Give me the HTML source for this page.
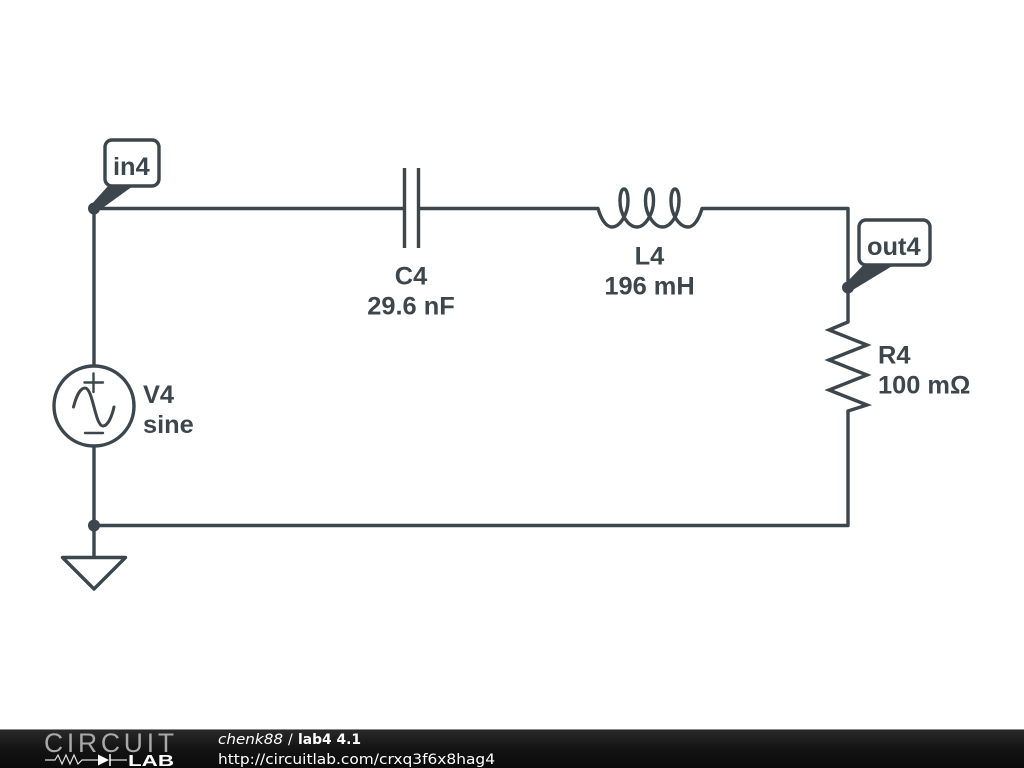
<!DOCTYPE html>
<html>
<head>
<meta charset="utf-8">
<style>
html,body{margin:0;padding:0;background:#fff;width:1024px;height:768px;overflow:hidden}
svg{display:block}
.l{font-family:"Liberation Sans",sans-serif;font-weight:bold;font-size:25.4px;fill:#3c464c}
.f{font-family:"DejaVu Sans",sans-serif;font-size:14px;fill:#fff}
</style>
</head>
<body>
<svg width="1024" height="768" viewBox="0 0 1024 768" xmlns="http://www.w3.org/2000/svg">
<defs>
<linearGradient id="g" x1="0" y1="0" x2="0" y2="1">
<stop offset="0" stop-color="#2a2a2a"/>
<stop offset="0.5" stop-color="#141414"/>
<stop offset="1" stop-color="#0a0a0a"/>
</linearGradient>
</defs>
<rect width="1024" height="768" fill="#fff"/>
<g fill="none" stroke="#3c464c" stroke-width="3.4" stroke-linejoin="round" stroke-linecap="round">
<!-- wires -->
<path stroke-linecap="butt" d="M94 208.500H404M418.500 208.500H598M702 208.500H848V322M848 411V525.500H94M94 208.500V366M94 446V557"/>
<!-- capacitor -->
<path stroke-linecap="butt" d="M404.500 168V248M418.500 168V248"/>
<!-- inductor -->
<path d="M598 208.500C601 219 606 227 612 227C620 227 628 214 628 201C628 194 626.500 189 624 189C621.500 189 620 194 620 201C620 214 628 227 637 227C645 227 653.500 214 653.500 201C653.500 194 652 189 649.500 189C647 189 645.500 194 645.500 201C645.500 214 654 227 662.500 227C671 227 679 214 679 201C679 194 677.500 189 675 189C672.500 189 671 194 671 201C671 214 679 227 688 227C694 227 699 219 702 208.500"/>
<!-- resistor -->
<path stroke-linejoin="miter" d="M848 322L829 330L867 345L829 360L867 375L829 390L867 405L848 411"/>
<!-- source -->
<circle cx="94" cy="406" r="40" fill="#fff"/>
<path stroke-width="2.400" d="M84.500 382.500H103M93.500 373.500V392M85 433H103"/>
<path stroke-width="3" d="M73.500 407C76 397 80 388 85 388C93 388 95 426 103 426C108 426 112 416 114 407"/>
<!-- ground -->
<path d="M62.500 557.500H125.500L94 589Z"/>
<!-- labels -->
<rect x="105" y="140" width="54" height="46" rx="7" fill="#fff"/>
<rect x="859" y="220" width="71" height="45" rx="7" fill="#fff"/>
</g>
<g fill="#3c464c">
<circle cx="94" cy="208.500" r="6"/>
<circle cx="94" cy="525.500" r="6"/>
<circle cx="848" cy="287.500" r="6"/>
<path d="M90 206L108 186L133 186L97 212Z"/>
<path d="M844 285L863 265.500L893 265.500L851 291Z"/>
</g>
<text class="l" x="113" y="175">in4</text>
<text class="l" x="867" y="255">out4</text>
<text class="l" x="411" y="284.500" text-anchor="middle">C4</text>
<text class="l" x="411" y="314.500" text-anchor="middle">29.6 nF</text>
<text class="l" x="649.500" y="264.500" text-anchor="middle">L4</text>
<text class="l" x="649.500" y="294.500" text-anchor="middle">196 mH</text>
<text class="l" x="878" y="363.500">R4</text>
<text class="l" x="878" y="393.500">100 mΩ</text>
<text class="l" x="143" y="403">V4</text>
<text class="l" x="143" y="433">sine</text>
<!-- footer -->
<rect x="0" y="729" width="1024" height="39" fill="url(#g)"/>
<rect x="0" y="729" width="1024" height="1" fill="#8a8a8a"/>
<text x="44" y="752" font-family="'Liberation Sans',sans-serif" font-size="26.500" fill="#a8a8a8" textLength="130" lengthAdjust="spacing">CIRCUIT</text>
<text x="128" y="766" font-family="'Liberation Sans',sans-serif" font-size="15.500" font-weight="bold" fill="#fff" textLength="46" lengthAdjust="spacingAndGlyphs">LAB</text>
<path d="M45 760H55L58 755L62 764L66 755L70 764L74 755L78 764L82 760H98M110 760H127" fill="none" stroke="#e0e0e0" stroke-width="1.200"/>
<path d="M98 754.500L109 760L98 765.500Z" fill="#fff"/>
<path d="M110 754V766" stroke="#fff" stroke-width="1.500"/>
<text class="f" x="218" y="744" font-style="italic" textLength="65" lengthAdjust="spacingAndGlyphs">chenk88</text>
<text class="f" x="288" y="744">/</text>
<text class="f" x="298" y="744" font-weight="bold" textLength="63" lengthAdjust="spacingAndGlyphs">lab4 4.1</text>
<text class="f" x="218" y="764" textLength="277" lengthAdjust="spacingAndGlyphs">http://circuitlab.com/crxq3f6x8hag4</text>
</svg>
</body>
</html>
